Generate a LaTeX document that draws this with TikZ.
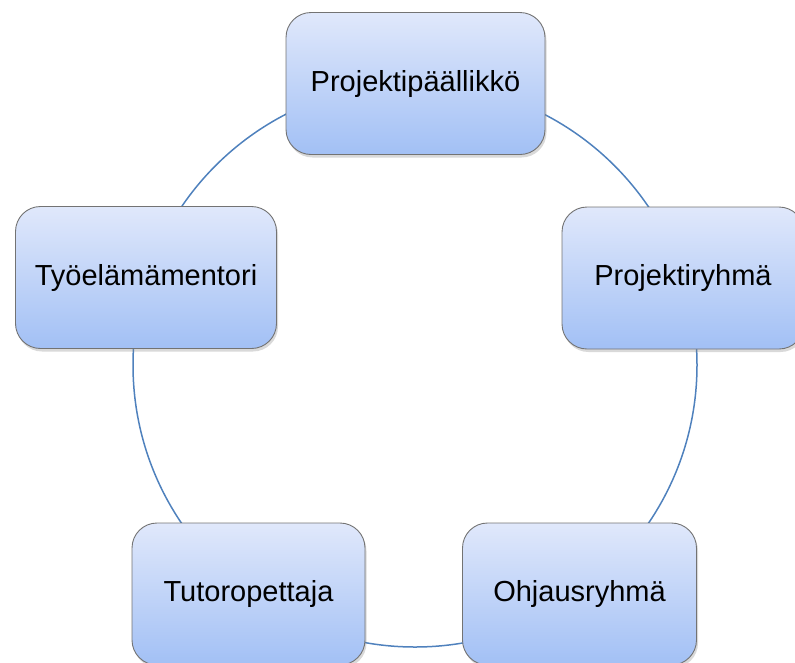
\documentclass[tikz,border=0pt]{standalone}
\usepackage{fontspec}
\setmainfont{Liberation Sans}
\usetikzlibrary{shadows}
\definecolor{arcblue}{RGB}{79,129,189}
\definecolor{boxtop}{RGB}{224,232,251}
\definecolor{boxbot}{RGB}{162,192,245}
\definecolor{boxedge}{RGB}{115,115,115}
\tikzset{
  cyclebox/.style={rectangle, rounded corners=25pt, draw=boxedge, line width=0.9pt,
    top color=boxtop, bottom color=boxbot, inner sep=0pt, minimum height=142pt,
    font=\fontsize{29}{34}\selectfont,
    drop shadow={opacity=0.3, shadow xshift=1.5pt, shadow yshift=-3pt}},
  ring/.style={draw=arcblue, line width=1.5pt}
}
\begin{document}
\begin{tikzpicture}[x=1pt,y=-1pt]
\useasboundingbox (0,0) rectangle (795,662);
\coordinate (c) at (415,365);
\draw[ring] (c) circle[radius=282pt];
\node[cyclebox, minimum width=259pt] (pm) at (415.5,83.5) {Projektipäällikkö};
\node[cyclebox, minimum width=242pt] (pr) at (683,278) {Projektiryhmä};
\node[cyclebox, minimum width=234pt] (oh) at (579.5,594) {Ohjausryhmä};
\node[cyclebox, minimum width=233pt] (tu) at (248.5,594) {Tutoropettaja};
\node[cyclebox, minimum width=261pt] (ty) at (146,277.5) {Työelämämentori};
\end{tikzpicture}
\end{document}
